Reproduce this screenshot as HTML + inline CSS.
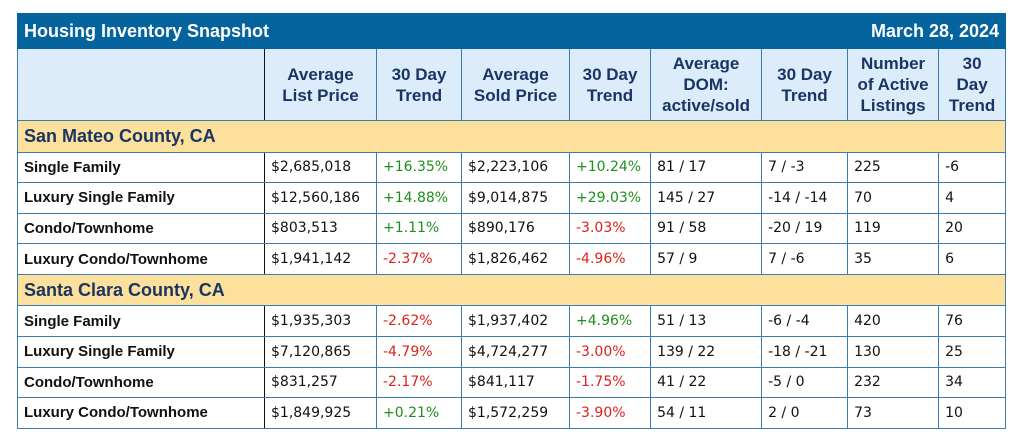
<!DOCTYPE html>
<html><head><style>
body{margin:0;background:#fff;width:1023px;height:440px;overflow:hidden}
table{position:absolute;left:17px;top:13px;border-collapse:collapse;table-layout:fixed;width:988px}
td{border:1.5px solid #3a7db5;padding:0 0 0 6px;font:14px "DejaVu Sans",sans-serif;color:#111;height:29.6px;white-space:nowrap}
tr.t td{background:#05639d;color:#fff;font:bold 18px "Liberation Sans",sans-serif;height:34px;border-color:#05639d}
tr.h td{background:#ddecfb;color:#1a3564;font:bold 17px/21px "Liberation Sans",sans-serif;text-align:center;height:71px;padding:0 1px;white-space:nowrap}
tr.s td{background:#fde09b;color:#1a3564;font:bold 18px "Liberation Sans",sans-serif;height:30.5px}
td.l{font:bold 15px "Liberation Sans",sans-serif;border-right:1.5px solid #111}
.g{color:#1e8f1e}.r{color:#e0201a}
</style></head><body>
<table>
<colgroup><col style="width:247px"><col style="width:112px"><col style="width:85px"><col style="width:108px"><col style="width:81px"><col style="width:111px"><col style="width:86px"><col style="width:91px"><col style="width:67px"></colgroup>
<tr class="t"><td colspan="5">Housing Inventory Snapshot</td><td colspan="4" style="text-align:right;padding-right:6px">March 28, 2024</td></tr>
<tr class="h"><td style="border-right:1.5px solid #111"></td><td>Average<br>List Price</td><td>30 Day<br>Trend</td><td>Average<br>Sold Price</td><td>30 Day<br>Trend</td><td>Average<br>DOM:<br>active/sold</td><td>30 Day<br>Trend</td><td>Number<br>of Active<br>Listings</td><td>30<br>Day<br>Trend</td></tr>
<tr class="s"><td colspan="9">San Mateo County, CA</td></tr>
<tr><td class="l">Single Family</td><td>$2,685,018</td><td class="g">+16.35%</td><td>$2,223,106</td><td class="g">+10.24%</td><td>81 / 17</td><td>7 / -3</td><td>225</td><td>-6</td></tr>
<tr><td class="l">Luxury Single Family</td><td>$12,560,186</td><td class="g">+14.88%</td><td>$9,014,875</td><td class="g">+29.03%</td><td>145 / 27</td><td>-14 / -14</td><td>70</td><td>4</td></tr>
<tr><td class="l">Condo/Townhome</td><td>$803,513</td><td class="g">+1.11%</td><td>$890,176</td><td class="r">-3.03%</td><td>91 / 58</td><td>-20 / 19</td><td>119</td><td>20</td></tr>
<tr><td class="l">Luxury Condo/Townhome</td><td>$1,941,142</td><td class="r">-2.37%</td><td>$1,826,462</td><td class="r">-4.96%</td><td>57 / 9</td><td>7 / -6</td><td>35</td><td>6</td></tr>
<tr class="s"><td colspan="9">Santa Clara County, CA</td></tr>
<tr><td class="l">Single Family</td><td>$1,935,303</td><td class="r">-2.62%</td><td>$1,937,402</td><td class="g">+4.96%</td><td>51 / 13</td><td>-6 / -4</td><td>420</td><td>76</td></tr>
<tr><td class="l">Luxury Single Family</td><td>$7,120,865</td><td class="r">-4.79%</td><td>$4,724,277</td><td class="r">-3.00%</td><td>139 / 22</td><td>-18 / -21</td><td>130</td><td>25</td></tr>
<tr><td class="l">Condo/Townhome</td><td>$831,257</td><td class="r">-2.17%</td><td>$841,117</td><td class="r">-1.75%</td><td>41 / 22</td><td>-5 / 0</td><td>232</td><td>34</td></tr>
<tr><td class="l">Luxury Condo/Townhome</td><td>$1,849,925</td><td class="g">+0.21%</td><td>$1,572,259</td><td class="r">-3.90%</td><td>54 / 11</td><td>2 / 0</td><td>73</td><td>10</td></tr>
</table>
</body></html>
